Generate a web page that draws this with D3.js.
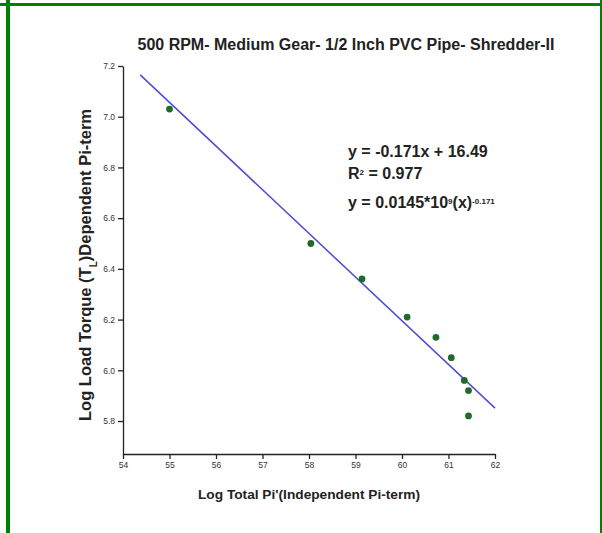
<!DOCTYPE html>
<html lang="en">
<head>
    <meta charset="utf-8" />
    <title>Shredder-II Torque</title>
    <script src="https://cdnjs.cloudflare.com/ajax/libs/d3/7.8.5/d3.min.js"></script>
    <style>
        body { margin: 0; background: #fff; }
        text { font-family: "Liberation Sans", Arial, sans-serif; }
        .axis text { font-size: 8.5px; fill: #333; }
        .axis path, .axis line { stroke: #222; stroke-width: 1.3; }
    </style>
</head>
<body>
<script>
    // data
    const logPi = [55.0, 58.04, 59.14, 60.11, 60.73, 61.06, 61.34, 61.43, 61.43];
    const logTorque = [7.03, 6.50, 6.36, 6.21, 6.13, 6.05, 5.96, 5.92, 5.82];
    const fitX = [54.37, 62.0];
    const fitY = [7.165, 5.851];
    const xTicks = [54, 55, 56, 57, 58, 59, 60, 61, 62];
    const yTicks = [5.8, 6.0, 6.2, 6.4, 6.6, 6.8, 7.0, 7.2];

    const W = 602, H = 533;
    const svg = d3.select("body").append("svg")
        .attr("width", W)
        .attr("height", H);

    // green frame
    svg.append("rect").attr("x", 0).attr("y", 3).attr("width", W).attr("height", 3).attr("fill", "#008000");
    svg.append("rect").attr("x", 6).attr("y", 0).attr("width", 4).attr("height", H).attr("fill", "#008000");
    svg.append("rect").attr("x", 600).attr("y", 0).attr("width", 2).attr("height", H).attr("fill", "#008000");

    const xscale = d3.scaleLinear().domain([54, 62]).range([123, 495]);
    const yscale = d3.scaleLinear().domain([5.67, 7.2]).range([454, 66]);

    const xaxis = d3.axisBottom(xscale).tickValues(xTicks).tickFormat(d3.format("d"))
        .tickSize(5).tickSizeOuter(0);
    const yaxis = d3.axisLeft(yscale).tickValues(yTicks).tickFormat(d3.format(".1f"))
        .tickSize(5).tickSizeOuter(0);

    svg.append("g").attr("class", "x axis")
        .attr("transform", `translate(0,${yscale.range()[0]})`)
        .call(xaxis);
    svg.append("g").attr("class", "y axis")
        .attr("transform", `translate(${xscale.range()[0]},0)`)
        .call(yaxis);

    // trend line
    const line = d3.line().x(d => xscale(d[0])).y(d => yscale(d[1]));
    svg.append("path")
        .datum(d3.zip(fitX, fitY))
        .attr("d", line)
        .attr("fill", "none")
        .attr("stroke", "#4b4bd6")
        .attr("stroke-width", 1.5);

    // points
    svg.selectAll("circle.pt")
        .data(d3.zip(logPi, logTorque))
        .join("circle")
        .attr("class", "pt")
        .attr("cx", d => xscale(d[0]))
        .attr("cy", d => yscale(d[1]))
        .attr("r", 3.4)
        .attr("fill", "#1f6b2c");

    // title
    svg.append("text")
        .attr("x", 346).attr("y", 50)
        .attr("text-anchor", "middle")
        .style("font-size", "16px").style("font-weight", "bold").style("fill", "#222")
        .text("500 RPM- Medium Gear- 1/2 Inch PVC Pipe- Shredder-II");

    // axis titles
    svg.append("text")
        .attr("x", 309).attr("y", 499)
        .attr("text-anchor", "middle")
        .style("font-size", "13.7px").style("font-weight", "bold").style("fill", "#222")
        .text("Log Total Pi'(Independent Pi-term)");

    const ylab = svg.append("text")
        .attr("transform", "translate(91,265) rotate(-90)")
        .attr("text-anchor", "middle")
        .style("font-size", "16.5px").style("font-weight", "bold").style("fill", "#222");
    ylab.append("tspan").text("Log Load Torque (T");
    ylab.append("tspan").attr("baseline-shift", "sub").style("font-size", "10px").text("L");
    ylab.append("tspan").text(")Dependent Pi-term");

    // equations
    const eq = svg.append("g").style("font-size", "16px").style("font-weight", "bold").style("fill", "#222");
    eq.append("text").attr("x", 348).attr("y", 157).text("y = -0.171x + 16.49");
    const r2 = eq.append("text").attr("x", 348).attr("y", 179);
    r2.append("tspan").text("R");
    r2.append("tspan").attr("baseline-shift", "super").style("font-size", "8px").text("2");
    r2.append("tspan").text(" = 0.977");
    const pw = eq.append("text").attr("x", 348).attr("y", 208);
    pw.append("tspan").text("y = 0.0145*10");
    pw.append("tspan").attr("baseline-shift", "super").style("font-size", "8px").text("9");
    pw.append("tspan").text("(x)");
    pw.append("tspan").attr("baseline-shift", "super").style("font-size", "8px").text("-0.171");
</script>
</body>
</html>
